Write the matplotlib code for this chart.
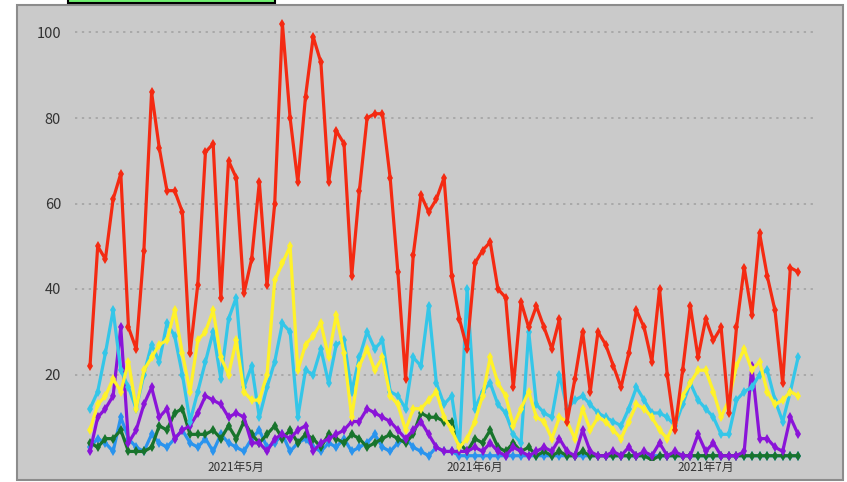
import pandas as pd
import matplotlib.pyplot as plt
import matplotlib.dates as mdates
from matplotlib.patches import Rectangle
from matplotlib.ticker import FuncFormatter

plt.rcParams['font.family'] = ['Noto Sans CJK SC', 'DejaVu Sans']

# daily values, 2021-04-12 .. 2021-07-13
start_date = '2021-04-12'

red = [22, 50, 47, 61, 67, 31, 26, 49, 86, 73,
       63, 63, 58, 25, 41, 72, 74, 38, 70, 66,
       39, 47, 65, 41, 60, 102, 80, 65, 85, 99,
       93, 65, 77, 74, 43, 63, 80, 81, 81, 66,
       44, 19, 48, 62, 58, 61, 66, 43, 33, 26,
       46, 49, 51, 40, 38, 17, 37, 31, 36, 31,
       26, 33, 9, 19, 30, 16, 30, 27, 22, 17,
       25, 35, 31, 23, 40, 20, 7, 21, 36, 24,
       33, 28, 31, 11, 31, 45, 34, 53, 43, 35,
       18, 45, 44]

cyan = [12, 16, 25, 35, 21, 17, 12, 20, 27, 23,
        32, 29, 20, 9, 16, 23, 30, 19, 33, 38,
        17, 22, 10, 17, 23, 32, 30, 10, 21, 20,
        26, 18, 27, 28, 16, 24, 30, 26, 28, 16,
        15, 12, 24, 22, 36, 18, 13, 15, 3, 40,
        12, 16, 18, 13, 11, 6, 4, 30, 13, 11,
        10, 20, 12, 14, 15, 13, 11, 10, 9, 8,
        12, 17, 14, 11, 11, 10, 8, 13, 18, 14,
        12, 10, 6, 6, 14, 16, 17, 20, 21, 14,
        9, 16, 24]

yellow = [7, 13, 15, 19, 16, 23, 12, 21, 24, 27,
          28, 35, 25, 16, 28, 30, 35, 24, 20, 28,
          16, 14, 14, 20, 42, 46, 50, 21, 27, 29,
          32, 24, 34, 25, 10, 22, 26, 21, 24, 15,
          13, 7, 12, 12, 14, 16, 10, 7, 3, 5,
          9, 15, 24, 18, 15, 8, 12, 16, 10, 9,
          5, 10, 9, 5, 12, 7, 10, 9, 7, 5,
          9, 13, 12, 10, 7, 5, 9, 15, 18, 21,
          21, 16, 10, 14, 22, 26, 21, 23, 16, 13,
          14, 16, 15]

purple = [2, 10, 12, 15, 31, 4, 7, 13, 17, 10,
          12, 5, 7, 8, 11, 15, 14, 13, 10, 11,
          10, 4, 4, 2, 5, 6, 5, 7, 8, 2,
          4, 5, 6, 7, 9, 9, 12, 11, 10, 9,
          7, 5, 7, 9, 6, 3, 2, 2, 2, 2,
          3, 2, 4, 2, 1, 3, 2, 1, 2, 3,
          2, 5, 2, 1, 7, 2, 1, 1, 2, 1,
          3, 1, 2, 1, 4, 1, 2, 1, 1, 6,
          2, 4, 1, 1, 1, 2, 22, 5, 5, 3,
          2, 10, 6]

green = [4, 3, 5, 5, 7, 2, 2, 2, 3, 8,
         7, 11, 12, 6, 6, 6, 7, 5, 8, 5,
         9, 6, 4, 6, 8, 5, 7, 4, 6, 5,
         3, 6, 5, 4, 6, 5, 3, 4, 5, 6,
         5, 4, 6, 11, 10, 10, 9, 9, 4, 2,
         5, 4, 7, 3, 2, 4, 2, 3, 1, 2,
         1, 2, 1, 1, 2, 1, 1, 1, 1, 1,
         1, 1, 1, 0, 1, 1, 1, 1, 1, 1,
         1, 1, 1, 1, 1, 1, 1, 1, 1, 1,
         1, 1, 1]

blue = [3, 5, 4, 2, 10, 5, 3, 2, 6, 4,
        3, 5, 7, 4, 3, 5, 2, 6, 4, 3,
        2, 5, 7, 3, 4, 6, 2, 4, 5, 3,
        2, 4, 3, 5, 2, 3, 4, 6, 3, 2,
        4, 5, 3, 2, 1, 3, 2, 2, 1, 1,
        1, 1, 1, 1, 1, 1, 1, 1, 1, 1,
        1, 1, 1, 1, 1, 1, 1, 1, 1, 1,
        1, 1, 1, 1, 1, 1, 1, 1, 1, 1,
        1, 1, 1, 1, 1, 1, 1, 1, 1, 1,
        1, 1, 1]

dates = pd.date_range(start_date, periods=len(red), freq='D')
series = [(blue, '#2a94ee'), (green, '#18742c'), (purple, '#8a14d8'),
          (cyan, '#34c6e8'), (yellow, '#fff22a'), (red, '#f42a12')]

fig = plt.figure(figsize=(8.47, 4.82), dpi=100)

# gray panel with border (behind the axes)
fig.patches.append(Rectangle((17 / 847, 2 / 482), 826 / 847, 475 / 482,
                             transform=fig.transFigure, facecolor='#cacaca',
                             edgecolor='#8c8c8c', linewidth=1.5, zorder=-10))
# bottom of a box cut off at the top
fig.patches.append(Rectangle((68 / 847, 479 / 482), 207 / 847, 0.05,
                             transform=fig.transFigure, facecolor='#70f070',
                             edgecolor='black', linewidth=1.5, zorder=-10))

ax = fig.add_axes([75 / 847, 22 / 482, 740 / 847, 444.6 / 482])
ax.patch.set_visible(False)

for vals, col in series:
    ax.plot(dates, vals, color=col, linewidth=2.3, marker='d', markersize=5,
            markeredgewidth=0)

ax.set_ylim(0, 104)
ax.set_yticks([20, 40, 60, 80, 100])
ax.set_xlim(pd.Timestamp(start_date) - pd.Timedelta(days=1.95),
            pd.Timestamp(start_date) + pd.Timedelta(days=94.2))
ax.xaxis.set_major_locator(mdates.MonthLocator())
ax.xaxis.set_major_formatter(FuncFormatter(
    lambda v, pos: '{}年{}月'.format(mdates.num2date(v).year, mdates.num2date(v).month)))

ax.grid(axis='y', color='#a0a0a0', linestyle=(0, (1.5, 3)), linewidth=1.1)
ax.set_axisbelow(True)
for s in ax.spines.values():
    s.set_visible(False)
ax.tick_params(axis='y', length=0, pad=10, labelsize=10.5, labelcolor='#333333')
ax.tick_params(axis='x', length=0, pad=1, labelsize=8.5, labelcolor='#333333')

fig.savefig('out.png', dpi=100)
